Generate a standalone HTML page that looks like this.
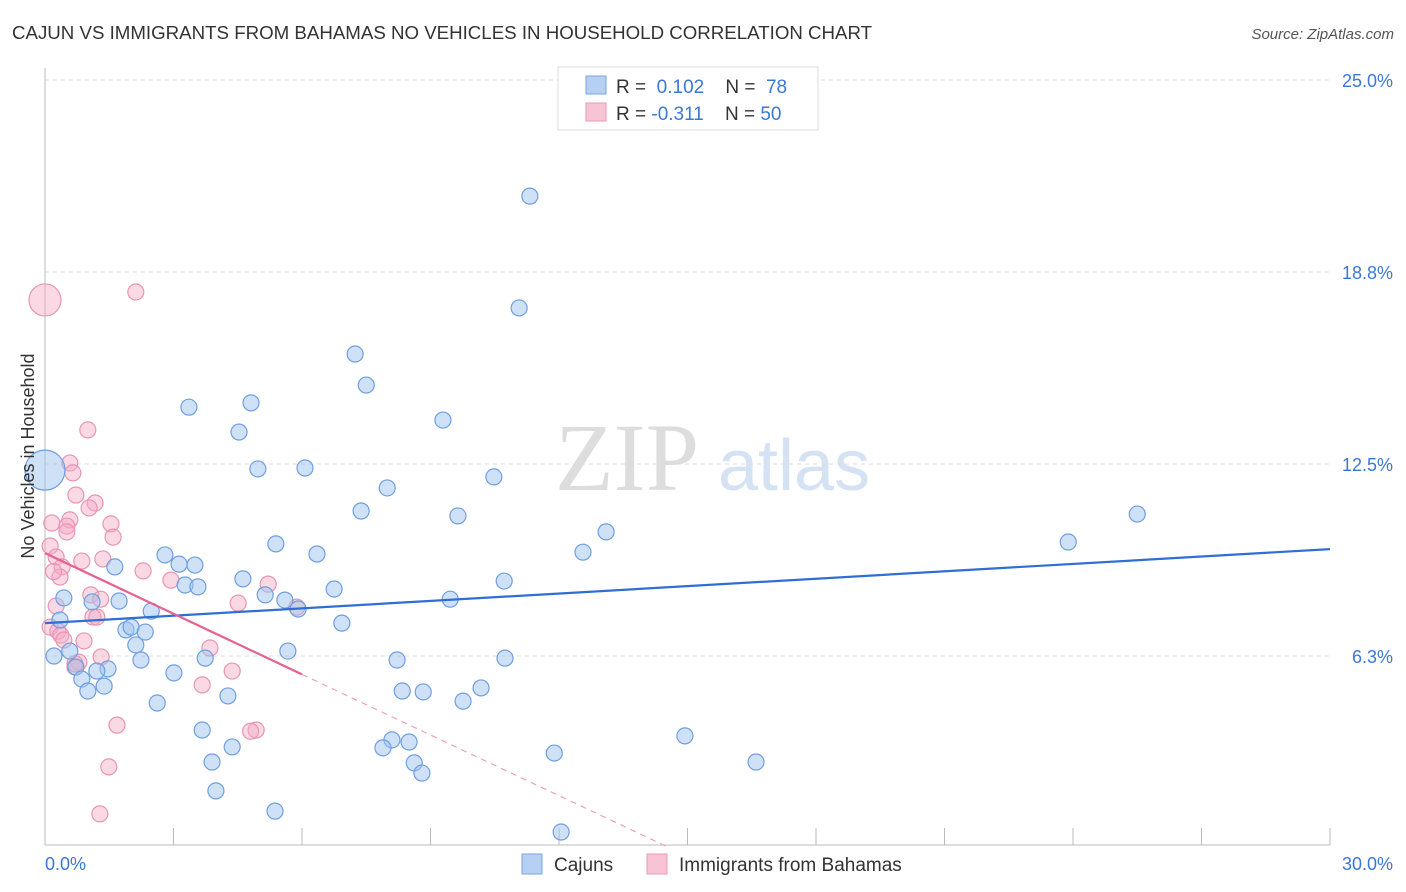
<!DOCTYPE html>
<html><head><meta charset="utf-8">
<style>
body{margin:0;background:#fff;font-family:"Liberation Sans",sans-serif;}
svg{display:block}
</style></head>
<body>
<svg id="chart" width="1406" height="892">
<text x="12" y="39" font-size="18.7" fill="#333">CAJUN VS IMMIGRANTS FROM BAHAMAS NO VEHICLES IN HOUSEHOLD CORRELATION CHART</text>
<text x="1394" y="39" font-size="15" fill="#555" font-style="italic" text-anchor="end">Source: ZipAtlas.com</text>
<text x="555" y="490" font-size="96" fill="#ddd" font-family="Liberation Serif,serif">ZIP</text>
<text x="718" y="490" font-size="72" fill="#d4e2f4">atlas</text>
<g id="grid"></g>
<g id="axes"></g>
<g id="marks"></g>
<g id="trends"></g>
<text transform="translate(34,456) rotate(-90)" font-size="18" fill="#333" text-anchor="middle">No Vehicles in Household</text>
<g>
<rect x="558" y="67" width="260" height="63" fill="#fff" stroke="#ddd"/>
<rect x="586" y="76" width="20" height="18" fill="#b5d0f3" stroke="#7ba6e2"/>
<text x="616" y="93" font-size="19" fill="#333">R = <tspan fill="#3a78d8">&#160;0.102</tspan>&#160;&#160;&#160;&#160;N = <tspan fill="#3a78d8">&#160;78</tspan></text>
<rect x="586" y="103" width="20" height="18" fill="#f8c3d4" stroke="#ea9ab5"/>
<text x="616" y="120" font-size="19" fill="#333">R = <tspan fill="#3a78d8">-0.311</tspan>&#160;&#160;&#160;&#160;N = <tspan fill="#3a78d8">50</tspan></text>
</g>
<g>
<rect x="522" y="854" width="20" height="20" fill="#b5d0f3" stroke="#7ba6e2"/>
<text x="554" y="871" font-size="19" fill="#333">Cajuns</text>
<rect x="647" y="854" width="20" height="20" fill="#f8c3d4" stroke="#ea9ab5"/>
<text x="679" y="871" font-size="19" fill="#333">Immigrants from Bahamas</text>
</g>
</svg>
<script>
const xTicks=[0,30];
const yTicks=[6.25,12.5,18.75,25];
const yTickLabels=["6.3%","12.5%","18.8%","25.0%"];
const cajunX=[11.32,11.07,7.24,7.50,3.36,4.81,9.29,4.53,4.97,6.07,10.48,7.99,7.38,9.64,25.50,13.10,23.89,12.56,5.39,6.35,2.80,3.50,3.13,1.63,4.62,10.72,3.27,3.57,6.75,5.14,5.60,9.46,5.91,0.44,1.10,1.73,2.48,0.35,6.93,1.89,2.01,2.34,2.12,0.58,0.21,5.67,2.24,3.74,8.22,10.74,0.72,1.47,1.21,0.86,3.01,1.38,1.00,8.34,8.83,10.18,4.27,9.76,2.62,3.67,14.94,4.37,8.10,8.50,7.89,11.89,3.90,8.62,16.60,8.80,3.99,5.37,12.05,0];
const cajunY=[21.22,17.58,16.08,15.07,14.35,14.49,13.93,13.54,12.34,12.37,12.08,11.72,10.97,10.81,10.87,10.29,9.96,9.63,9.90,9.57,9.54,9.21,9.24,9.15,8.76,8.69,8.56,8.50,8.43,8.24,8.07,8.10,7.78,8.14,8.01,8.04,7.71,7.42,7.32,7.10,7.19,7.03,6.61,6.41,6.25,6.41,6.12,6.18,6.12,6.18,5.89,5.83,5.76,5.50,5.70,5.27,5.11,5.11,5.08,5.21,4.95,4.78,4.72,3.84,3.65,3.29,3.52,3.45,3.26,3.09,2.80,2.77,2.80,2.44,1.86,1.20,0.52,12.30];
const bahX=[0,2.12,1.00,0.58,0.65,0.72,1.17,1.03,0.58,0.51,0.16,1.54,0.51,1.59,0.12,0.26,1.35,0.86,0.40,2.29,0.35,2.94,5.21,1.07,4.51,5.88,0.26,1.12,1.21,0.12,0.30,0.37,0.91,3.85,1.31,0.79,0.70,4.37,3.67,1.68,4.93,1.49,1.28,0.44,4.80,0.70,0.20,1.30];
const bahY=[17.84,18.10,13.61,12.53,12.21,11.49,11.23,11.07,10.68,10.48,10.58,10.55,10.29,10.12,9.83,9.47,9.41,9.34,9.15,9.02,8.82,8.72,8.59,8.24,7.97,7.84,7.88,7.52,7.52,7.19,7.06,6.93,6.74,6.51,6.22,6.05,5.89,5.76,5.31,4.00,3.84,2.64,1.11,6.77,3.80,6.00,9.00,8.10];
const cajunTrend=[7.32,0.0803];
const bahTrend=[9.60,-0.658];
const bahSolidEnd=6.0;

const cajunR=cajunX.map((v,i)=>i===cajunX.length-1?20:8);
const bahR=bahX.map((v,i)=>i===0?16:8);
const X=v=>45+v/30*1285;
const Y=v=>848-v/6.25*192;
const NS='http://www.w3.org/2000/svg';
function mk(tag,attrs,parent){const e=document.createElementNS(NS,tag);for(const k in attrs)e.setAttribute(k,attrs[k]);parent.appendChild(e);return e;}
const gridG=document.getElementById('grid'),axesG=document.getElementById('axes'),marksG=document.getElementById('marks'),trendsG=document.getElementById('trends');
yTicks.forEach((t,i)=>{
  const l=mk('line',{x1:45,x2:1330,y1:Y(t),y2:Y(t),stroke:'#ddd','stroke-dasharray':'4,4'},gridG);
  
  
  const tx=mk('text',{x:1393,y:Y(t)+7,'font-size':18,fill:'#3a78d8','text-anchor':'end'},gridG);
  tx.textContent=yTickLabels[i];
  
  
});
const topGrid=mk('line',{x1:45,x2:1330,y1:Y(25),y2:Y(25),stroke:'#ddd','stroke-dasharray':'4,4'},gridG);


mk('line',{x1:45,x2:45,y1:68,y2:845,stroke:'#bbb'},axesG);
mk('line',{x1:45,x2:1330,y1:845,y2:845,stroke:'#bbb'},axesG);
for(let i=0;i<=10;i++){const t=mk('line',{x1:X(i*3),x2:X(i*3),y1:828,y2:845,stroke:'#bbb'},axesG);
  
  }
xTicks.forEach(t=>{
  const tx=mk('text',{x:t===0?45:1393,y:870,'font-size':18,fill:'#3a78d8','text-anchor':t===0?'start':'end'},axesG);
  tx.textContent=t.toFixed(1)+'%';
  
  
});
bahX.forEach((v,i)=>{
  const c=mk('circle',{cx:X(v),cy:Y(bahY[i]),r:bahR[i],fill:'rgba(245,170,198,0.45)',stroke:'#e895b2','stroke-width':1.2},marksG);
  
  
});
cajunX.forEach((v,i)=>{
  const c=mk('circle',{cx:X(v),cy:Y(cajunY[i]),r:cajunR[i],fill:'rgba(160,195,240,0.5)',stroke:'#6e9fe0','stroke-width':1.2},marksG);
  
  
});
const bl=mk('line',{x1:X(0),y1:Y(cajunTrend[0]),x2:X(30),y2:Y(cajunTrend[0]+30*cajunTrend[1]),stroke:'#2f6fd4','stroke-width':2.2},trendsG);


const ps=mk('line',{x1:X(0),y1:Y(bahTrend[0]),x2:X(bahSolidEnd),y2:Y(bahTrend[0]+bahSolidEnd*bahTrend[1]),stroke:'#e8608e','stroke-width':2.2},trendsG);


const xEnd=-bahTrend[0]/bahTrend[1];
const pd=mk('line',{x1:X(bahSolidEnd),y1:Y(bahTrend[0]+bahSolidEnd*bahTrend[1]),x2:X(xEnd),y2:Y(0),stroke:'#eea0bb','stroke-width':1.2,'stroke-dasharray':'6,5'},trendsG);


</script>
</body></html>
